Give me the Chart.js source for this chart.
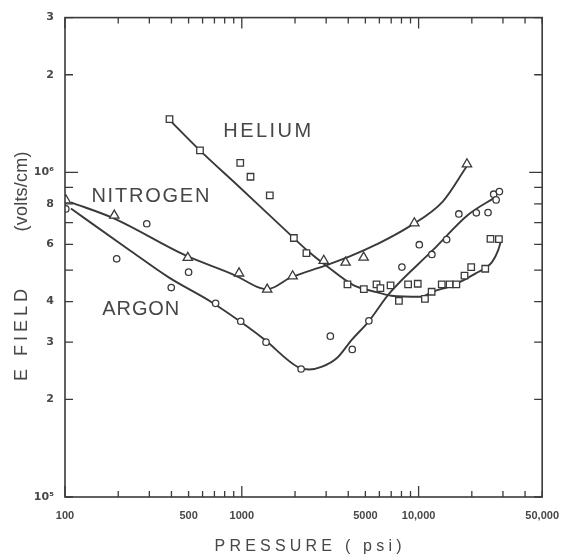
<!DOCTYPE html>
<html>
<head>
<meta charset="utf-8">
<script src="https://cdn.jsdelivr.net/npm/chart.js@4.4.1/dist/chart.umd.min.js"></script>
<style>
  html, body { margin: 0; padding: 0; background: #ffffff; }
  #wrap { width: 571px; height: 560px; }
</style>
</head>
<body>
<div id="wrap"><canvas id="c" width="571" height="560"></canvas></div>
<script>
// ---- axis ticks & labels ----
const xTickValues = [100,200,300,400,500,600,700,800,900,1000,2000,3000,4000,5000,6000,7000,8000,9000,10000,20000,30000,40000,50000];
const xMajorTicks = [100,1000,10000];
const xLabelValues = [100,500,1000,5000,10000,50000];
const xLabelTexts = ['100','500','1000','5000','10,000','50,000'];

const yTickValues = [1e5,2e5,3e5,4e5,5e5,6e5,7e5,8e5,9e5,1e6,2e6,3e6];
const yMajorTicks = [1e6];
const yLabelValues = [1e5,2e5,3e5,4e5,6e5,8e5,1e6,2e6,3e6];
const yLabelTexts = ['10\u2075','2','3','4','6','8','10\u2076','2','3'];

// ---- measured points (pressure psi, E field V/cm) ----
const heliumX = [390,580,980,1120,1440,1970,2320,3960,4900,5780,6080,6940,7740,8720,9890,10860,11850,13520,14980,16350,18180,19840,23820,25500,28460];
const heliumY = [1.46e6,1.17e6,1.07e6,9.7e5,8.5e5,6.28e5,5.64e5,4.52e5,4.37e5,4.52e5,4.4e5,4.49e5,4.02e5,4.52e5,4.54e5,4.08e5,4.29e5,4.52e5,4.52e5,4.52e5,4.81e5,5.11e5,5.05e5,6.24e5,6.23e5];

const nitrogenX = [101,190,495,965,1392,1939,2908,3862,4887,9462,18770];
const nitrogenY = [8.22e5,7.37e5,5.46e5,4.89e5,4.36e5,4.79e5,5.35e5,5.28e5,5.47e5,6.98e5,1.061e6];

const argonX = [101,196,290,399,500,711,986,1371,2165,3168,4214,5233,8046,10090,11890,14410,16890,21210,24700,26580,27450,28640];
const argonY = [7.72e5,5.42e5,6.95e5,4.42e5,4.93e5,3.95e5,3.48e5,3.00e5,2.48e5,3.13e5,2.85e5,3.49e5,5.11e5,5.99e5,5.59e5,6.21e5,7.45e5,7.51e5,7.52e5,8.57e5,8.23e5,8.73e5];

// ---- hand-drawn fitted curves ----
const heliumCurveX = [386,569,952,1813,2346,3034,4296,5776,7008,10310,12040,15570,20940,26070,28160,29270];
const heliumCurveY = [1.46e6,1.18e6,9.1e5,6.55e5,5.75e5,5.14e5,4.49e5,4.28e5,4.17e5,4.14e5,4.29e5,4.49e5,4.88e5,5.30e5,5.75e5,6.17e5];

const nitrogenCurveX = [108,190,481,916,1264,1401,1884,2958,4080,5776,8837,13690,18650];
const nitrogenCurveY = [8.09e5,7.21e5,5.55e5,4.82e5,4.41e5,4.37e5,4.74e5,5.16e5,5.51e5,6.00e5,6.81e5,8.13e5,1.041e6];

const argonCurveX = [108,231,386,672,1083,1349,2062,2406,2846,3451,4187,5212,6832,11990,19140,27090];
const argonCurveY = [7.74e5,5.77e5,4.75e5,3.99e5,3.34e5,3.05e5,2.52e5,2.47e5,2.52e5,2.68e5,3.05e5,3.47e5,4.24e5,5.75e5,7.42e5,8.38e5];

// ---- text ----
const seriesNames = ['HELIUM','NITROGEN','ARGON'];
const seriesNameX = [785,141,162.5];
const seriesNameY = [1.336e6,8.44e5,3.77e5];
const xTitle = 'PRESSURE ( psi)';
const yTitleParts = ['E FIELD','(volts/cm)'];

const INK = '#3a3a3a';
const TEXT = '#474747';

function pts(xs, ys) { return xs.map((x, i) => ({x: x, y: ys[i]})); }

function spacedText(ctx, text, x, y, targetW, align) {
  const chars = [...text];
  const widths = chars.map(c => ctx.measureText(c).width);
  const natural = widths.reduce((a, b) => a + b, 0);
  const sp = chars.length > 1 ? (targetW - natural) / (chars.length - 1) : 0;
  let cx = align === 'center' ? x - targetW / 2 : x;
  ctx.textAlign = 'left';
  chars.forEach((c, i) => { ctx.fillText(c, cx, y); cx += widths[i] + sp; });
}

const framePlugin = {
  id: 'frame',
  afterDatasetsDraw(chart) {
    const ctx = chart.ctx;
    const a = chart.chartArea;
    const xs = chart.scales.x, ys = chart.scales.y;
    ctx.save();
    ctx.strokeStyle = INK;
    ctx.lineWidth = 1.6;
    ctx.strokeRect(a.left, a.top, a.right - a.left, a.bottom - a.top);
    ctx.lineWidth = 1.3;
    ctx.beginPath();
    xTickValues.forEach(v => {
      const px = xs.getPixelForValue(v);
      const L = xMajorTicks.includes(v) ? 11 : 6;
      ctx.moveTo(px, a.bottom); ctx.lineTo(px, a.bottom - L);
      ctx.moveTo(px, a.top); ctx.lineTo(px, a.top + L);
    });
    yTickValues.forEach(v => {
      const py = ys.getPixelForValue(v);
      const L = yMajorTicks.includes(v) ? 13 : 8;
      ctx.moveTo(a.left, py); ctx.lineTo(a.left + L, py);
      ctx.moveTo(a.right, py); ctx.lineTo(a.right - L, py);
    });
    ctx.stroke();

    // series names
    ctx.fillStyle = TEXT;
    ctx.textBaseline = 'middle';
    ctx.font = '20px "Liberation Sans", Arial, sans-serif';
    const nameWidths = [88, 118, 77];
    seriesNames.forEach((n, i) => {
      spacedText(ctx, n, xs.getPixelForValue(seriesNameX[i]), ys.getPixelForValue(seriesNameY[i]), nameWidths[i], 'left');
    });

    // axis titles
    ctx.font = '16px "Liberation Sans", Arial, sans-serif';
    spacedText(ctx, xTitle, 308, 547, 187, 'center');
    ctx.font = '18px "Liberation Sans", Arial, sans-serif';
    ctx.translate(22, 0);
    ctx.rotate(-Math.PI / 2);
    spacedText(ctx, yTitleParts[0], -335, 0, 92, 'center');
    spacedText(ctx, yTitleParts[1], -191.5, 0, 80, 'center');
    ctx.restore();
  }
};

const markerCommon = { showLine: false, borderColor: INK, backgroundColor: '#ffffff', borderWidth: 1.3, order: 0 };
const curveCommon = { showLine: true, pointRadius: 0, borderColor: INK, borderWidth: 1.9, cubicInterpolationMode: 'monotone', order: 1, fill: false };

new Chart(document.getElementById('c'), {
  type: 'scatter',
  data: {
    datasets: [
      Object.assign({ label: 'Helium', data: pts(heliumX, heliumY), pointStyle: 'rect', pointRadius: 4.6 }, markerCommon),
      Object.assign({ label: 'Nitrogen', data: pts(nitrogenX, nitrogenY), pointStyle: 'triangle', pointRadius: 5.4 }, markerCommon),
      Object.assign({ label: 'Argon', data: pts(argonX, argonY), pointStyle: 'circle', pointRadius: 3.2 }, markerCommon),
      Object.assign({ label: 'Helium fit', data: pts(heliumCurveX, heliumCurveY) }, curveCommon),
      Object.assign({ label: 'Nitrogen fit', data: pts(nitrogenCurveX, nitrogenCurveY) }, curveCommon),
      Object.assign({ label: 'Argon fit', data: pts(argonCurveX, argonCurveY) }, curveCommon)
    ]
  },
  options: {
    responsive: false,
    animation: false,
    devicePixelRatio: 1,
    layout: { padding: { top: 13, right: 23, left: 0, bottom: 0 } },
    plugins: { legend: { display: false }, tooltip: { enabled: false } },
    scales: {
      x: {
        type: 'logarithmic',
        min: 100, max: 50000,
        afterBuildTicks: s => { s.ticks = xTickValues.map(v => ({ value: v })); },
        afterFit: s => { s.height = 63; },
        grid: { display: false, drawTicks: false },
        border: { display: false },
        ticks: {
          autoSkip: false, maxRotation: 0, padding: 12,
          color: TEXT,
          font: { family: '"Liberation Sans", Arial, sans-serif', size: 11, weight: 'bold' },
          callback: v => { const i = xLabelValues.indexOf(v); return i >= 0 ? xLabelTexts[i] : ''; }
        }
      },
      y: {
        type: 'logarithmic',
        min: 1e5, max: 3e6,
        afterBuildTicks: s => { s.ticks = yTickValues.map(v => ({ value: v })); },
        afterFit: s => { s.width = 65; },
        grid: { display: false, drawTicks: false },
        border: { display: false },
        ticks: {
          autoSkip: false, padding: 11,
          color: TEXT,
          font: { family: '"DejaVu Sans", "Liberation Sans", sans-serif', size: 11, weight: 'bold' },
          callback: v => { const i = yLabelValues.findIndex(t => Math.abs(t - v) / t < 1e-6); return i >= 0 ? yLabelTexts[i] : ''; }
        }
      }
    }
  },
  plugins: [framePlugin]
});
</script>
</body>
</html>
